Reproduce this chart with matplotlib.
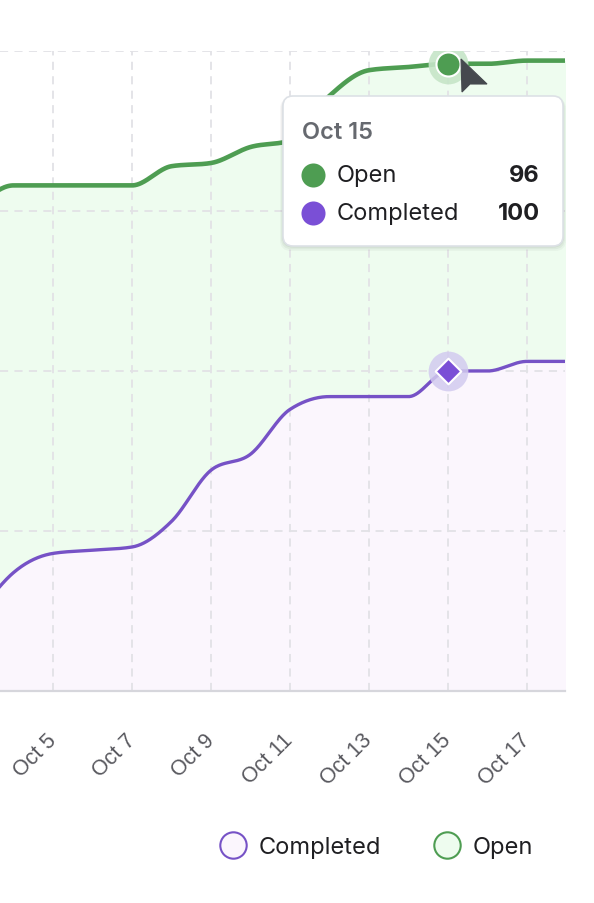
import matplotlib
matplotlib.use("Agg")
import matplotlib.pyplot as plt
from matplotlib.lines import Line2D
from matplotlib.patches import FancyBboxPatch, Polygon
import numpy as np

# daily values, Oct 3 .. Oct 18
days = [3, 4, 5, 6, 7, 8, 9, 10, 11, 12, 13, 14, 15, 16, 17, 18]
completed = [22, 37, 43, 44, 45, 53, 69, 74, 88, 92, 92, 92, 100, 100, 103, 103]
openIssues = [128, 121, 115, 114, 113, 111, 96, 96, 84, 94, 102, 103, 96, 96, 94, 94]
tickDays = [5, 7, 9, 11, 13, 15, 17]
tickLabels = [f"Oct {d}" for d in tickDays]
hoverDay = 15

green = "#4e9d52"
greenFill = "#eefcef"
purple = "#7652c6"
purpleFill = "#fbf6fd"
gridColor = "#e2e2e6"

W, H = 594, 904


def monotoneCurve(x, y, n=40):
  # d3 curveMonotoneX, evaluated as cubic bezier segments
  x = np.asarray(x, float)
  y = np.asarray(y, float)
  h = np.diff(x)
  s = np.diff(y) / h
  t = np.zeros_like(y)
  for i in range(1, len(x) - 1):
    p = (s[i - 1] * h[i] + s[i] * h[i - 1]) / (h[i - 1] + h[i])
    t[i] = (np.sign(s[i - 1]) + np.sign(s[i])) * min(abs(s[i - 1]), abs(s[i]), 0.5 * abs(p))
  t[0] = (3 * s[0] - t[1]) / 2
  t[-1] = (3 * s[-1] - t[-2]) / 2
  xs, ys = [], []
  u = np.linspace(0, 1, n)
  for i in range(len(h)):
    dx = h[i] / 3
    px = [x[i], x[i] + dx, x[i + 1] - dx, x[i + 1]]
    py = [y[i], y[i] + dx * t[i], y[i + 1] - dx * t[i + 1], y[i + 1]]
    b = [(1 - u) ** 3, 3 * (1 - u) ** 2 * u, 3 * (1 - u) * u ** 2, u ** 3]
    xs.append(sum(bk * pk for bk, pk in zip(b, px)))
    ys.append(sum(bk * pk for bk, pk in zip(b, py)))
  return np.concatenate(xs), np.concatenate(ys)


fig = plt.figure(figsize=(W / 100, H / 100), dpi=100)
ax = fig.add_axes([0, (H - 692) / H, 565 / W, 640 / H])

total = np.array(completed) + np.array(openIssues)
cx, cy = monotoneCurve(days, completed)
tx, ty = monotoneCurve(days, total)

ax.fill_between(cx, 0, cy, color=purpleFill, lw=0, zorder=1)
ax.fill_between(tx, cy, ty, color=greenFill, lw=0, zorder=1)

for d in tickDays:
  ax.axvline(d, color=gridColor, lw=1.3, ls=(0, (4.5, 3.5)), zorder=2)
for v in (50, 100, 150, 200):
  ax.axhline(v, color=gridColor, lw=1.3, ls=(0, (4.5, 3.5)), zorder=2)

ax.plot(tx, ty, color=green, lw=3.3, solid_capstyle="round", zorder=3)
ax.plot(cx, cy, color=purple, lw=2.4, solid_capstyle="round", zorder=3)

hi = days.index(hoverDay)
ax.scatter([hoverDay], [completed[hi]], s=820, color="#d2cbef", alpha=0.85, lw=0, zorder=4)
ax.scatter([hoverDay], [completed[hi]], marker="D", s=170, color="#7a4fd6",
           edgecolor="white", lw=1.5, zorder=5)
ax.scatter([hoverDay], [total[hi]], s=820, color="#c6e5c8", alpha=0.9, lw=0, zorder=4)
ax.scatter([hoverDay], [total[hi]], s=300, color=green, edgecolor="white", lw=1.5, zorder=5)

ax.set_xlim(15 - 448 / 39.5, 15 + 117 / 39.5)
ax.set_ylim(0, 200)
ax.set_yticks([])
ax.set_xticks(tickDays, labels=tickLabels)
ax.tick_params(axis="x", length=0, pad=33, labelsize=15.5, labelcolor="#58585e")
for lbl in ax.get_xticklabels():
  lbl.set_fontfamily("Liberation Sans")
  lbl.set_rotation(45)
  lbl.set_rotation_mode("anchor")
  lbl.set_ha("right")
  lbl.set_va("center")
for side in ("left", "right", "top"):
  ax.spines[side].set_visible(False)
ax.spines["bottom"].set_color("#d6d6dc")
ax.spines["bottom"].set_linewidth(1.6)
ax.patch.set_visible(False)

# overlay in pixel coordinates for the tooltip
ov = fig.add_axes([0, 0, 1, 1])
ov.set_xlim(0, W)
ov.set_ylim(H, 0)
ov.axis("off")

for k, a in ((6, 0.03), (4, 0.04), (2, 0.05)):
  ov.add_patch(FancyBboxPatch((283 - k / 2, 97 + k / 3), 280 + k, 150 + k / 2,
                              boxstyle="round,pad=0,rounding_size=11",
                              fc="black", ec="none", alpha=a, zorder=9))
ov.add_patch(FancyBboxPatch((283, 97), 280, 150, boxstyle="round,pad=0,rounding_size=10",
                            fc="white", ec="#dde1e6", lw=1.2, zorder=10))
ov.text(302, 133, f"Oct {hoverDay}", fontsize=17, fontweight="semibold", color="#66696f",
        family="Inter", va="center", ha="left", zorder=11)
rows = [("Open", openIssues[hi], green), ("Completed", completed[hi], "#7a4fd6")]
for j, (name, val, col) in enumerate(rows):
  yy = 176 + j * 38
  ov.scatter([313], [yy], s=300, color=col, lw=0, zorder=11)
  ov.text(337, yy, name, fontsize=17, color="#1f1f22", family="Inter",
          va="center", ha="left", zorder=11)
  ov.text(540, yy, str(val), fontsize=17, fontweight="bold", color="#1f1f22",
          family="Inter", va="center", ha="right", zorder=11)

# mouse pointer
ov.add_patch(Polygon([(461, 60), (462, 93), (470, 85), (487, 85)], closed=True,
                     fc="#45494e", ec="#45494e", lw=0.8, zorder=12))

handles = [
  Line2D([], [], ls="none", marker="o", markersize=19, markerfacecolor=purpleFill,
         markeredgecolor=purple, markeredgewidth=1.5, label="Completed"),
  Line2D([], [], ls="none", marker="o", markersize=19, markerfacecolor=greenFill,
         markeredgecolor=green, markeredgewidth=1.5, label="Open"),
]
fig.legend(handles=handles, loc="center", bbox_to_anchor=(376 / W, 56 / H), ncol=2,
           frameon=False, prop={"family": "Inter", "size": 17}, handlelength=1.2,
           handletextpad=0.5, columnspacing=2.2, labelcolor="#1f1f22")

fig.savefig("out.png", dpi=100, facecolor="white")
